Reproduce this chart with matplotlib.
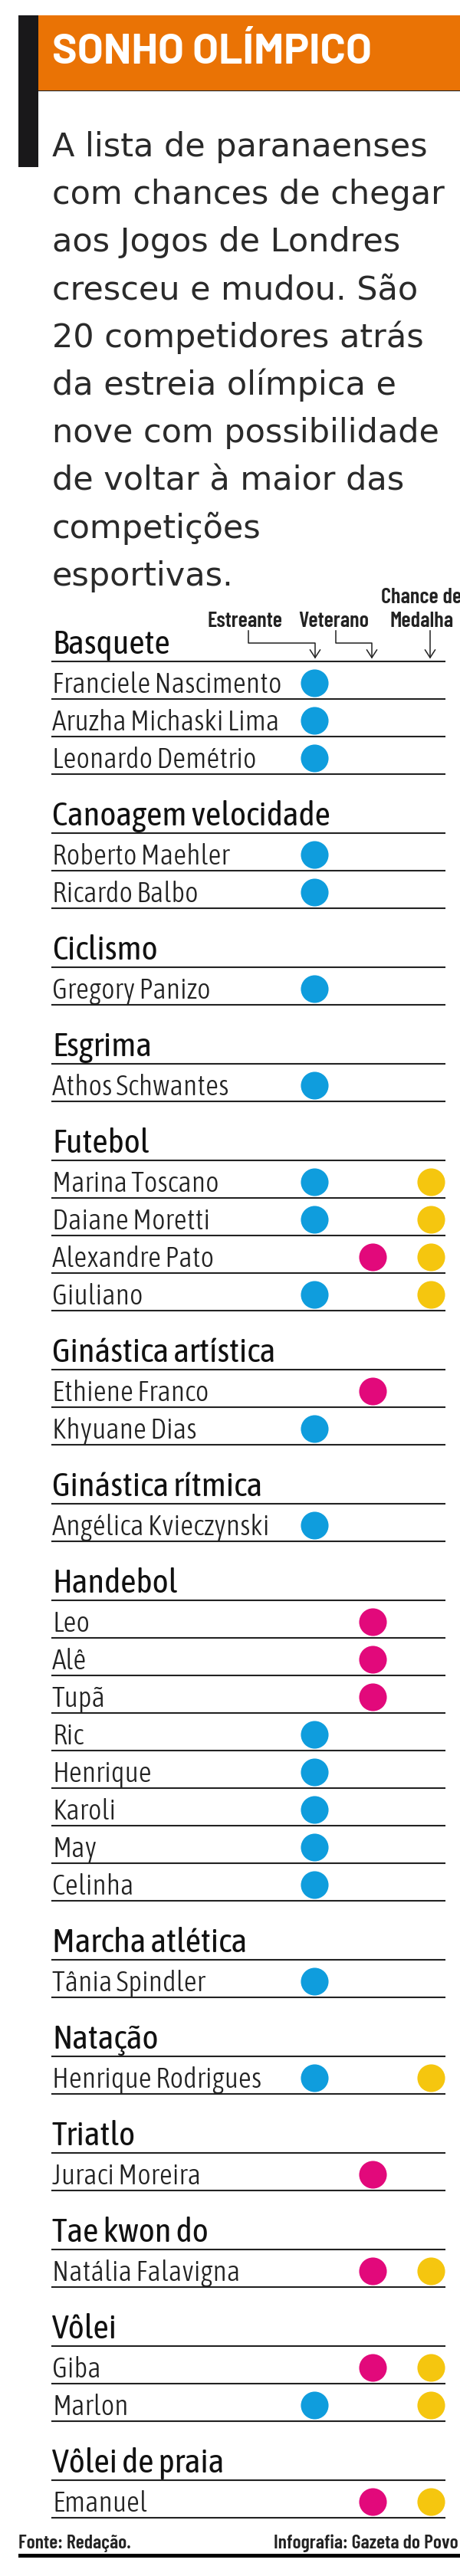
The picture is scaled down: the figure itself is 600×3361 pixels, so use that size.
import matplotlib.pyplot as plt
from matplotlib.patches import Rectangle
import logging

logging.getLogger('matplotlib.font_manager').setLevel(logging.ERROR)

# dados
titulo = 'SONHO OLÍMPICO'
intro = ['A lista de paranaenses', 'com chances de chegar', 'aos Jogos de Londres',
         'cresceu e mudou. São', '20 competidores atrás', 'da estreia olímpica e',
         'nove com possibilidade', 'de voltar à maior das', 'competições', 'esportivas.']

esportes = ['Basquete', 'Canoagem velocidade', 'Ciclismo', 'Esgrima', 'Futebol',
            'Ginástica artística', 'Ginástica rítmica', 'Handebol', 'Marcha atlética',
            'Natação', 'Triatlo', 'Tae kwon do', 'Vôlei', 'Vôlei de praia']
atletas = [
    ['Franciele Nascimento', 'Aruzha Michaski Lima', 'Leonardo Demétrio'],
    ['Roberto Maehler', 'Ricardo Balbo'],
    ['Gregory Panizo'],
    ['Athos Schwantes'],
    ['Marina Toscano', 'Daiane Moretti', 'Alexandre Pato', 'Giuliano'],
    ['Ethiene Franco', 'Khyuane Dias'],
    ['Angélica Kvieczynski'],
    ['Leo', 'Alê', 'Tupã', 'Ric', 'Henrique', 'Karoli', 'May', 'Celinha'],
    ['Tânia Spindler'],
    ['Henrique Rodrigues'],
    ['Juraci Moreira'],
    ['Natália Falavigna'],
    ['Giba', 'Marlon'],
    ['Emanuel'],
]
# E = estreante, V = veterano, M = chance de medalha
marcas = [
    ['E', 'E', 'E'],
    ['E', 'E'],
    ['E'],
    ['E'],
    ['EM', 'EM', 'VM', 'EM'],
    ['V', 'E'],
    ['E'],
    ['V', 'V', 'V', 'E', 'E', 'E', 'E', 'E'],
    ['E'],
    ['EM'],
    ['V'],
    ['VM'],
    ['VM', 'EM'],
    ['VM'],
]
colunaX = {'E': 410, 'V': 486, 'M': 562}
cores = {'E': '#0f9ddd', 'V': '#e2097b', 'M': '#f5c60f'}

# fontes estreitas, com DejaVu condensada de reserva
fonteLista = ['Asap Condensed', 'DejaVu Sans']
fonteLegenda = ['Barlow Condensed', 'DejaVu Sans']
fonteTitulo = ['Barlow', 'DejaVu Sans']

fig = plt.figure(figsize=(6, 33.61), dpi=100)
ax = fig.add_axes([0, 0, 1, 1])
ax.set_xlim(0, 600)
ax.set_ylim(3361, 0)
ax.axis('off')

# cabecalho
ax.add_patch(Rectangle((50, 20), 550, 98, color='#ea7305', lw=0))
ax.add_patch(Rectangle((24, 20), 26, 198, color='#19181a', lw=0))
ax.plot([50, 600], [118, 118], color='#222222', lw=0.8)
ax.text(68, 83, titulo, fontsize=39.5, color='white', family=fonteTitulo, fontweight='bold',
        va='baseline')

y = 204
for linha in intro:
    ax.text(68, y, linha, fontsize=31, color='#2a2a2a', family='DejaVu Sans', va='baseline')
    y += 62.2


def legenda(x, yb, texto):
    ax.text(x, yb, texto, fontsize=20.5, family=fonteLegenda, fontweight=600, fontstretch='condensed',
            color=corLeg, ha='center', va='baseline')


# legenda
corLeg = '#222222'
legenda(320, 818, 'Estreante')
legenda(435, 818, 'Veterano')
legenda(550, 787, 'Chance de')
legenda(550, 818, 'Medalha')
ax.plot([324, 324, 411, 411], [823, 839, 839, 858], color=corLeg, lw=1.1)
ax.plot([438, 438, 485, 485], [823, 839, 839, 858], color=corLeg, lw=1.1)
ax.plot([561, 561], [823, 858], color=corLeg, lw=1.1)
for xs in (411, 485, 561):
    ax.plot([xs - 6.5, xs, xs + 6.5], [848, 858, 848], color=corLeg, lw=1.1)

# lista
regra = 863
passo = 49
for i in range(len(esportes)):
    ax.text(68, regra - 10, esportes[i], fontsize=32, family=fonteLista, fontweight=400,
            fontstretch='condensed', color='#111111', va='baseline')
    ax.plot([68, 580], [regra, regra], color='#222222', lw=1.5)
    for j in range(len(atletas[i])):
        base = regra + passo
        ax.text(68, base - 8, atletas[i][j], fontsize=27, family=fonteLista, fontweight=300,
                fontstretch='condensed', color='#222222', va='baseline')
        ax.plot([68, 580], [base, base], color='#222222', lw=1.5)
        for m in marcas[i][j]:
            ax.plot(colunaX[m], base - 21.5, 'o', ms=26, color=cores[m], mec='none')
        regra = base
    regra += 77

# rodape
ax.text(24, 3325, 'Fonte: Redação.', fontsize=18.5, family=fonteLegenda, fontweight=600,
        fontstretch='condensed', color='#222222', va='baseline')
ax.text(598, 3325, 'Infografia: Gazeta do Povo', fontsize=18.5, family=fonteLegenda, fontweight=600,
        fontstretch='condensed', color='#222222', ha='right', va='baseline')
ax.add_patch(Rectangle((24, 3332), 576, 5, color='black', lw=0))

fig.savefig('out.png', dpi=100)
